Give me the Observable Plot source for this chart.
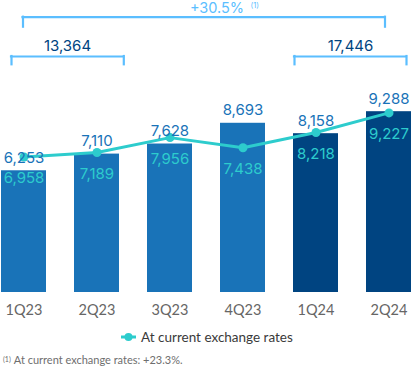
<!DOCTYPE html>
<html><head><meta charset="utf-8">
<script src="https://cdn.jsdelivr.net/npm/d3@7"></script>
<script src="https://cdn.jsdelivr.net/npm/@observablehq/plot@0.6"></script>
<style>
html,body{margin:0;padding:0;background:#fff;}
#chart{width:413px;height:369px;position:relative;overflow:hidden;font-family:Lato,"Open Sans",sans-serif;}
#plot svg{display:block;}
#legend{position:absolute;left:0;top:327px;width:413px;height:20px;}
#legend .mk{position:absolute;left:120px;top:3px;}
#legend .tx{position:absolute;left:141px;top:1px;font-size:13.5px;color:#3a3a3a;line-height:18px;}
#foot{position:absolute;left:3px;top:353px;font-size:11px;color:#6e6e6e;line-height:14px;white-space:nowrap;}
#foot sup{font-size:7px;vertical-align:top;position:relative;top:-1px;margin-right:3px;}
</style></head>
<body><div id="chart"><div id="plot"></div><div id="legend"></div><div id="foot"></div></div>
<script>
// ---- data ----
const quarters = ["1Q23","2Q23","3Q23","4Q23","1Q24","2Q24"];
const years = ["2023","2023","2023","2023","2024","2024"];
const constantValues = [6253,7110,7628,8693,8158,9288];
const currentValues = [6958,7189,7956,7438,8218,9227];
const groupFrom = ["1Q23","1Q24"];
const groupTo = ["2Q23","2Q24"];
const groupTotals = [13364,17446];
const growthText = "+30.5%";
const noteMark = "(1)";
const legendText = "At current exchange rates";
const footnoteText = "At current exchange rates: +23.3%.";

const data = quarters.map((q,i)=>({q, year: years[i], bar: constantValues[i], line: currentValues[i]}));
const groups = groupFrom.map((f,i)=>({from: f, to: groupTo[i], total: groupTotals[i]}));
const fmt = d3.format(",");

const BR = "#5bbeff", TEAL = "#2dcccd", MID = "#1973b8", DARK = "#004481";
const numFont = "Inter, 'Open Sans', sans-serif";
const brStyle = {stroke: BR, strokeWidth: 2.2, strokeLinecap: "square"};

// annotation levels (y-scale units)
const bigTop = 14142, bigBottom = 13629, smallTop = 12123, smallBottom = 11697;

function leg(q, y1, y2, dx){ return Plot.ruleX([q], {x: d=>d, y1, y2, dx, ...brStyle}); }

const marks = [
  Plot.barY(data, {x: "q", y: "bar", fill: "year"}),
  Plot.line(data, {x: "q", y: "line", stroke: TEAL, strokeWidth: 3}),
  Plot.dot(data, {x: "q", y: "line", r: 4.5, fill: TEAL}),
  Plot.text(data, {x: "q", y: "line", text: d=>fmt(d.line), dy: 21.5, fill: TEAL, fontSize: 15, fontFamily: numFont}),
  Plot.text(data, {x: "q", y: "bar", text: d=>fmt(d.bar), dy: -13, fill: MID, fontSize: 15, fontFamily: numFont}),
  // big bracket
  Plot.ruleY([{from: quarters[0], to: quarters[quarters.length-1]}], {x1: "from", x2: "to", y: ()=>bigTop, insetLeft: 21.5, insetRight: 26.5, ...brStyle}),
  leg(quarters[0], bigBottom, bigTop, -1),
  leg(quarters[quarters.length-1], bigBottom, bigTop, -4),
  Plot.text([growthText], {text: d=>d, y: ()=>14590, dx: 10.5, fill: BR, fontSize: 14.5, fontFamily: numFont}),
  Plot.text([noteMark], {text: d=>d, y: ()=>14760, dx: 44, textAnchor: "start", fill: BR, fontSize: 7.5, fontFamily: numFont}),
  // group brackets
  Plot.ruleY([groups[0]], {x1: "from", x2: "to", y: ()=>smallTop, insetLeft: 10, insetRight: -4.3, ...brStyle}),
  leg(groups[0].from, smallBottom, smallTop, -12.5),
  leg(groups[0].to, smallBottom, smallTop, 26.8),
  Plot.text([groups[0]], {x: "from", y: ()=>12660, text: d=>fmt(d.total), dx: 43.5, fill: DARK, fontSize: 15, fontFamily: numFont}),
  Plot.ruleY([groups[1]], {x1: "from", x2: "to", y: ()=>smallTop, insetLeft: 1, insetRight: 5, ...brStyle}),
  leg(groups[1].from, smallBottom, smallTop, -21.5),
  leg(groups[1].to, smallBottom, smallTop, 17.5),
  Plot.text([groups[1]], {x: "from", y: ()=>12660, text: d=>fmt(d.total), dx: 34.5, fill: DARK, fontSize: 15, fontFamily: numFont}),
  Plot.axisX({tickSize: 0, tickPadding: 12.5, fontSize: 14.5, fill: "#666", label: null, fontFamily: "Lato, sans-serif"})
];

const chart = Plot.plot({
  width: 413, height: 325,
  marginTop: 0, marginBottom: 33, marginLeft: 1, marginRight: 2,
  x: {domain: quarters, paddingInner: 0.3836, paddingOuter: 0, axis: null},
  y: {domain: [0, 15000], axis: null},
  color: {domain: ["2023","2024"], range: [MID, DARK]},
  style: {fontFamily: "Lato, sans-serif", background: "#fff", overflow: "visible"},
  marks
});
document.getElementById("plot").appendChild(chart);

// legend
document.getElementById("legend").innerHTML =
  `<svg class="mk" width="18" height="14"><line x1="1" y1="7" x2="16" y2="7" stroke="${TEAL}" stroke-width="3"/><circle cx="8.5" cy="7" r="4" fill="${TEAL}"/></svg><span class="tx"></span>`;
document.querySelector("#legend .tx").textContent = legendText;
const foot = document.getElementById("foot");
const sup = document.createElement("sup"); sup.textContent = noteMark;
foot.appendChild(sup); foot.appendChild(document.createTextNode(footnoteText));
</script>
</body></html>
